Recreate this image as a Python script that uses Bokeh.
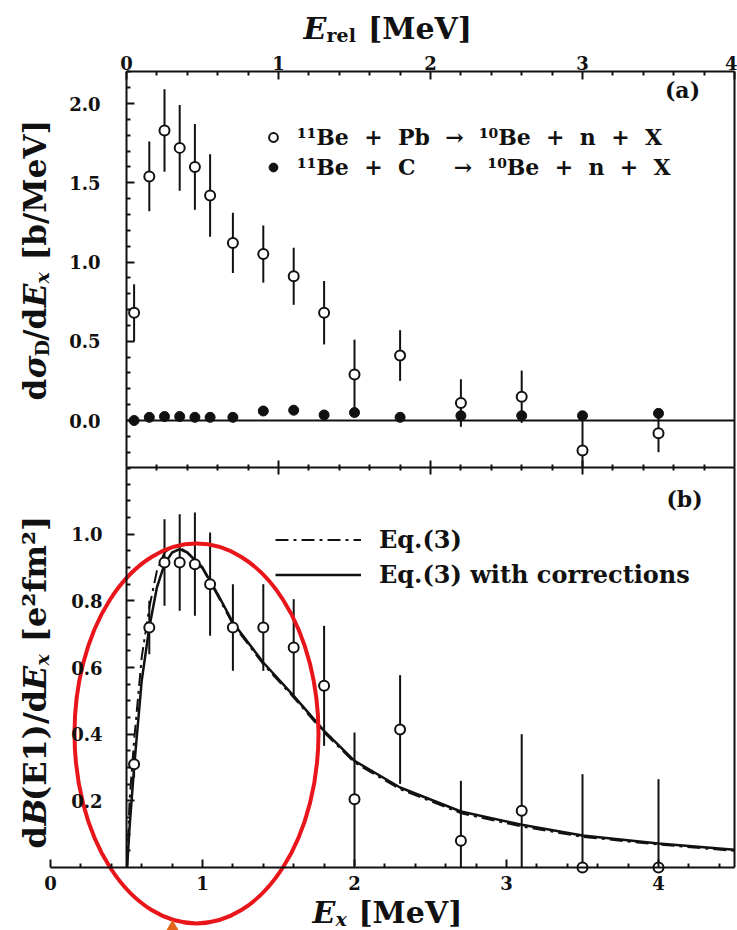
import numpy as np
from bokeh.plotting import figure
from bokeh.models import (Range1d, LinearAxis, FixedTicker, PrintfTickFormatter,
                          Label, Legend, LegendItem, ColumnDataSource)
from bokeh.embed import file_html
from bokeh.resources import INLINE

# ------------------------------------------------------------------ data
# excitation energies E_x [MeV] of the data points
ex_pts = [0.55, 0.65, 0.75, 0.85, 0.95, 1.05, 1.2, 1.4, 1.6, 1.8, 2.0, 2.3, 2.7, 3.1, 3.5, 4.0]
# (a) 11Be + Pb  (open circles)
pb_val = [0.68, 1.54, 1.83, 1.72, 1.60, 1.42, 1.12, 1.05, 0.91, 0.68, 0.29, 0.41, 0.11, 0.15, -0.19, -0.08]
pb_err = [0.18, 0.22, 0.26, 0.27, 0.27, 0.26, 0.19, 0.18, 0.18, 0.20, 0.22, 0.16, 0.15, 0.165, 0.195, 0.12]
# (a) 11Be + C  (filled circles)
c_val = [0.0, 0.02, 0.025, 0.025, 0.02, 0.02, 0.02, 0.06, 0.065, 0.035, 0.05, 0.02, 0.03, 0.03, 0.03, 0.045]
# (b) dB(E1)/dE_x
be1_val = [0.31, 0.72, 0.915, 0.915, 0.91, 0.85, 0.72, 0.72, 0.66, 0.545, 0.205, 0.414, 0.08, 0.17, 0.0, 0.0]
be1_err = [0.04, 0.08, 0.13, 0.145, 0.155, 0.155, 0.13, 0.13, 0.145, 0.18, 0.20, 0.163, 0.18, 0.23, 0.28, 0.265]
# (b) model curves
ex_curve = [0.504, 0.52, 0.55, 0.6, 0.65, 0.7, 0.75, 0.8, 0.85, 0.9, 1.0, 1.1, 1.2, 1.4, 1.6,
            1.8, 2.0, 2.3, 2.7, 3.1, 3.5, 4.0, 4.5]
eq3_corr = [0.0, 0.12, 0.30, 0.56, 0.72, 0.84, 0.91, 0.945, 0.955, 0.945, 0.90, 0.82, 0.735, 0.615,
            0.515, 0.41, 0.32, 0.24, 0.168, 0.128, 0.096, 0.072, 0.053]
eq3 = [0.0, 0.20, 0.38, 0.63, 0.78, 0.89, 0.945, 0.962, 0.96, 0.945, 0.897, 0.815, 0.73, 0.61,
       0.51, 0.405, 0.315, 0.235, 0.163, 0.123, 0.092, 0.069, 0.05]

# ticks / labels
top_ticks = [0, 1, 2, 3, 4]          # E_rel
bottom_ticks = [0, 1, 2, 3, 4]       # E_x
a_ticks = [0.0, 0.5, 1.0, 1.5, 2.0]
b_ticks = [0.2, 0.4, 0.6, 0.8, 1.0]
legend_a = ["\u00b9\u00b9Be\u00a0 +\u00a0 Pb\u00a0 \u2192\u00a0 \u00b9\u2070Be\u00a0 +\u00a0 n\u00a0 +\u00a0 X",
            "\u00b9\u00b9Be\u00a0 +\u00a0 C\u00a0 \u00a0 \u00a0\u2192\u00a0 \u00b9\u2070Be\u00a0 +\u00a0 n\u00a0 +\u00a0 X"]
legend_b = ["Eq.(3)", "Eq.(3) with corrections"]

# ------------------------------------------------------------------ layout
W, H = 737, 930
X0_PX, PX_PER = 50.0, 152.0        # pixel of E_x = 0, pixels per MeV
YB0_PX, PB = 867.0, 333.33         # panel (b): pixel of 0, pixels per unit
YA0_PX, PA = 420.0, 158.5          # panel (a): pixel of 0, pixels per unit
X_LEFT, X_RIGHT = 0.5, 4.5         # frame borders in E_x
B_TOP = (YB0_PX - 467) / PB        # 1.2
A_TOP = (YA0_PX - 71) / PA
A_BOT = (YA0_PX - 467) / PA
SN = 0.5                           # E_rel = E_x - SN

FONT = "DejaVu Serif"
INK = "#111111"
NB = "\u00a0"

xr = Range1d(-X0_PX / PX_PER, (W - X0_PX) / PX_PER)
yr = Range1d((YB0_PX - H) / PB, YB0_PX / PB)

p = figure(width=W, height=H, x_range=xr, y_range=yr, output_backend="svg",
           toolbar_location=None, title=None, x_axis_type=None, y_axis_type=None,
           min_border=0)
p.outline_line_color = None
p.background_fill_color = "white"
p.extra_y_ranges = {"a": Range1d((YA0_PX - H) / PA, YA0_PX / PA)}
p.extra_x_ranges = {"rel": Range1d(xr.start - SN, xr.end - SN)}


def style_axis(ax, tin=8, tout=0, min_in=4, min_out=0, standoff=5):
    ax.axis_line_width = 2
    ax.axis_line_color = INK
    ax.major_tick_line_width = 2
    ax.major_tick_line_color = INK
    ax.minor_tick_line_width = 2
    ax.minor_tick_line_color = INK
    ax.major_tick_in = tin
    ax.major_tick_out = tout
    ax.minor_tick_in = min_in
    ax.minor_tick_out = min_out
    ax.major_label_standoff = standoff
    ax.major_label_text_font = FONT
    ax.major_label_text_font_style = "bold"
    ax.major_label_text_font_size = "18px"
    ax.major_label_text_color = INK
    return ax


def minors(lo, hi, step, majors):
    vals = np.round(np.arange(lo, hi + 1e-9, step), 4)
    return [float(v) for v in vals if not any(abs(v - m) < 1e-6 for m in majors)]


# top axis (E_rel)
ax_top = LinearAxis(x_range_name="rel", y_range_name="a", fixed_location=A_TOP,
                    bounds=(0, 4),
                    ticker=FixedTicker(ticks=top_ticks, minor_ticks=minors(0, 4, 0.2, top_ticks)),
                    formatter=PrintfTickFormatter(format="%d"))
style_axis(ax_top, standoff=2)
p.add_layout(ax_top, "above")

# shared border between the panels
ax_mid = LinearAxis(x_range_name="rel", fixed_location=B_TOP, bounds=(0, 4),
                    ticker=FixedTicker(ticks=[1, 2, 3], minor_ticks=minors(0, 4, 0.2, [0, 1, 2, 3, 4])),
                    major_label_overrides={1: "", 2: "", 3: ""})
style_axis(ax_mid, tin=7, tout=7, min_in=3, min_out=3)
p.add_layout(ax_mid, "above")

# left axis panel (a)
ax_la = LinearAxis(y_range_name="a", fixed_location=X_LEFT, bounds=(A_BOT, A_TOP),
                   ticker=FixedTicker(ticks=a_ticks, minor_ticks=minors(-0.3, 2.2, 0.1, a_ticks)),
                   formatter=PrintfTickFormatter(format="%.1f"))
style_axis(ax_la, standoff=26)
p.add_layout(ax_la, "left")

# left axis panel (b)
ax_lb = LinearAxis(fixed_location=X_LEFT, bounds=(0, B_TOP),
                   ticker=FixedTicker(ticks=b_ticks, minor_ticks=minors(0.05, 1.15, 0.05, b_ticks)),
                   formatter=PrintfTickFormatter(format="%.1f"))
style_axis(ax_lb, standoff=24)
p.add_layout(ax_lb, "left")

# bottom axis (E_x)
ax_bot = LinearAxis(fixed_location=0, bounds=(0, X_RIGHT),
                    ticker=FixedTicker(ticks=bottom_ticks, minor_ticks=minors(0, 4.4, 0.2, bottom_ticks)),
                    formatter=PrintfTickFormatter(format="%d"))
style_axis(ax_bot, standoff=8)
p.add_layout(ax_bot, "below")

# right borders
for rng, b in (("a", (A_BOT, A_TOP)), ("default", (0, B_TOP))):
    ax_r = LinearAxis(y_range_name=rng, fixed_location=X_RIGHT, bounds=b,
                      ticker=FixedTicker(ticks=[]))
    style_axis(ax_r, tin=0, min_in=0)
    p.add_layout(ax_r, "right")

# ------------------------------------------------------------------ panel (a)
ex = np.array(ex_pts)
pbv, pbe = np.array(pb_val), np.array(pb_err)
src_pb = ColumnDataSource(dict(x=ex, y=pbv, lo=np.maximum(pbv - pbe, A_BOT), hi=pbv + pbe))
src_c = ColumnDataSource(dict(x=ex, y=np.array(c_val)))

p.segment(x0=X_LEFT, y0=0, x1=X_RIGHT, y1=0, y_range_name="a", line_color=INK, line_width=2)
p.segment(x0="x", y0="lo", x1="x", y1="hi", source=src_pb, y_range_name="a",
          line_color=INK, line_width=2)
r_c = p.scatter("x", "y", source=src_c, y_range_name="a", marker="circle", size=10,
                fill_color=INK, line_color=INK, line_width=1)
r_pb = p.scatter("x", "y", source=src_pb, y_range_name="a", marker="circle", size=10,
                 fill_color="white", line_color=INK, line_width=2)

leg_a = Legend(items=[LegendItem(label=legend_a[0], renderers=[r_pb]),
                      LegendItem(label=legend_a[1], renderers=[r_c])],
               location=(262, H - 182), orientation="vertical",
               label_text_font=FONT, label_text_font_style="bold",
               label_text_font_size="22px", label_text_color=INK,
               glyph_width=22, glyph_height=30, label_height=30, label_standoff=13,
               spacing=0, padding=0, margin=0,
               border_line_color=None, background_fill_alpha=0)
p.add_layout(leg_a)

# ------------------------------------------------------------------ panel (b)
bv, be = np.array(be1_val), np.array(be1_err)
src_b = ColumnDataSource(dict(x=ex, y=bv, lo=np.maximum(bv - be, 0), hi=bv + be))
r_eq3 = p.line(ex_curve, eq3, line_color=INK, line_width=2, line_dash="13 5 3 5")
r_corr = p.line(ex_curve, eq3_corr, line_color=INK, line_width=2.5)
p.segment(x0="x", y0="lo", x1="x", y1="hi", source=src_b, line_color=INK, line_width=2)
p.scatter("x", "y", source=src_b, marker="circle", size=10, fill_color="white",
          line_color=INK, line_width=2)

leg_b = Legend(items=[LegendItem(label=legend_b[0], renderers=[r_eq3]),
                      LegendItem(label=legend_b[1], renderers=[r_corr])],
               location=(275, H - 591), orientation="vertical",
               label_text_font=FONT, label_text_font_style="bold",
               label_text_font_size="24px", label_text_color=INK,
               glyph_width=86, glyph_height=33, label_height=33, label_standoff=18,
               spacing=2, padding=0, margin=0,
               border_line_color=None, background_fill_alpha=0)
p.add_layout(leg_b)

# ------------------------------------------------------------------ texts
WID = {' ': 0.348, NB: 0.348, 'd': 0.716, '\u03c3': 0.70, 'D': 0.83, '/': 0.365, 'E': 0.77,
       'x': 0.65, '[': 0.456, ']': 0.456, 'b': 0.716, 'M': 1.01, 'e': 0.674, 'V': 0.77,
       'B': 0.77, '(': 0.456, ')': 0.456, '1': 0.696, 'f': 0.47, 'm': 1.04, '\u00b2': 0.44,
       'r': 0.59, 'l': 0.37}
DY_H = -9     # empirical baseline correction of horizontal labels
DX_V = -19    # empirical baseline correction of rotated labels


def tw(s, size):
    return sum(WID.get(ch, 0.62) for ch in s) * size


def lab(x, y, txt, size, style, angle=0.0, align="left", baseline="alphabetic"):
    p.add_layout(Label(x=x, y=H - y, x_units="screen", y_units="screen", text=txt,
                       text_font=FONT, text_font_size=f"{size}px", text_font_style=style,
                       text_color=INK, text_align=align, text_baseline=baseline, angle=angle))


def htext(x, ybase, parts):
    for txt, size, style, dy in parts:
        lab(x, ybase + dy + DY_H, txt, size, style)
        x += tw(txt, size)


def vtext(xbase, ystart, parts):
    y = ystart
    for txt, size, style, dy in parts:
        lab(xbase + dy + DX_V, y, txt, size, style, angle=np.pi / 2)
        y -= tw(txt, size)


htext(303, 37, [("E", 30, "bold italic", 0), ("rel", 19, "bold", 6), (NB + "[MeV]", 30, "bold", 0)])
htext(312, 921, [("E", 30, "bold italic", 0), ("x", 19, "bold italic", 6), (NB + "[MeV]", 30, "bold", 0)])
vtext(53, 400, [("d", 31, "bold", 0), ("\u03c3", 31, "bold italic", 0), ("D", 19, "bold", 7),
                ("/d", 31, "bold", 0), ("E", 31, "bold italic", 0), ("x", 19, "bold italic", 7),
                (NB + "[b/MeV]", 31, "bold", 0)])
vtext(53, 848, [("d", 32, "bold", 0), ("B", 32, "bold italic", 0), ("(E1)/d", 32, "bold", 0),
                ("E", 32, "bold italic", 0), ("x", 19, "bold italic", 7),
                (NB + "[e\u00b2fm\u00b2]", 32, "bold", 0)])
lab(682, 89, "(a)", 22, "bold", align="center", baseline="middle")
lab(684, 498, "(b)", 22, "bold", align="center", baseline="middle")

# ------------------------------------------------------------------ annotation marks
ELL_PX = (196, 733)
p.ellipse(x=[(ELL_PX[0] - X0_PX) / PX_PER], y=[(YB0_PX - ELL_PX[1]) / PB],
          width=244, height=380, width_units="screen", height_units="screen",
          fill_alpha=0, line_color="#e8161b", line_width=4)
p.scatter(x=[(172 - X0_PX) / PX_PER], y=[(YB0_PX - 933) / PB], marker="triangle", size=24,
          fill_color="#e2651c", line_color=None)

open("out.html", "w").write(file_html(p, INLINE))
